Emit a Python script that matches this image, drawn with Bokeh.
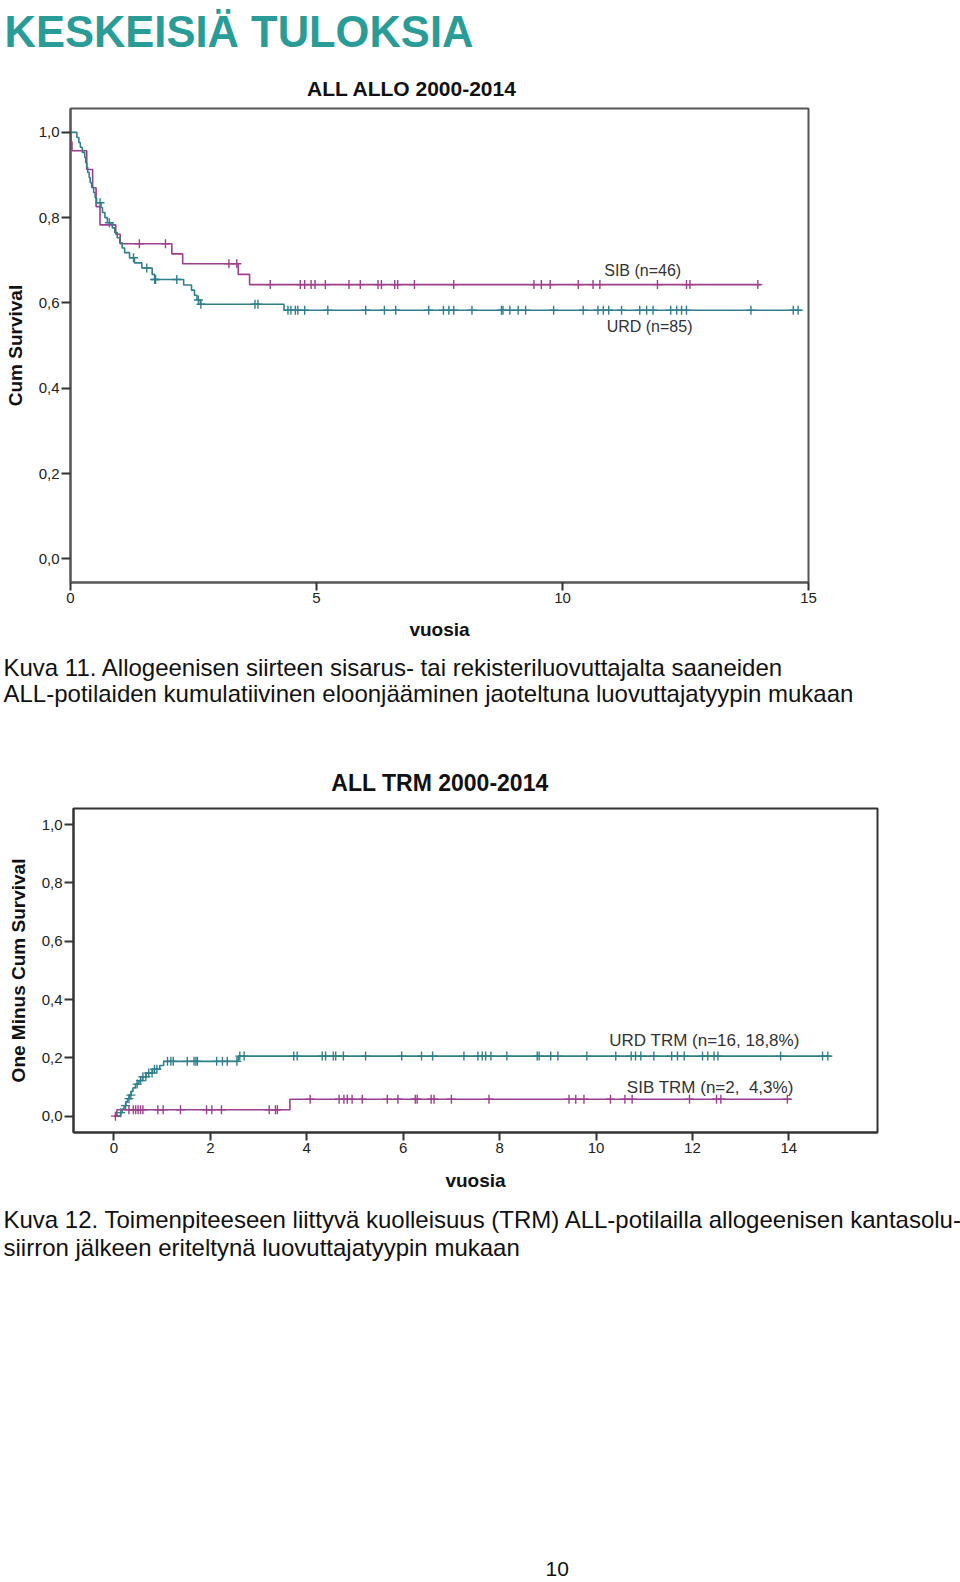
import numpy as np
from bokeh.plotting import figure
from bokeh.layouts import column
from bokeh.models import Range1d, FixedTicker
from bokeh.core.properties import value
from bokeh.embed import file_html
from bokeh.resources import INLINE

# ---------------- data: chart 1 (ALL ALLO 2000-2014, cumulative survival) ----------------
sib_time = [0.0, 0.01, 0.03, 0.33, 0.45, 0.52, 0.60, 0.92, 1.01, 2.06, 2.28, 3.41, 3.64, 14.03]
sib_surv = [1.0, 0.978, 0.957, 0.913, 0.870, 0.826, 0.783, 0.761, 0.739, 0.715, 0.692, 0.667, 0.643, 0.643]
sib_cens = [1.40, 1.93, 3.22, 3.38, 4.06, 4.67, 4.76, 4.89, 4.97, 5.18, 5.66, 5.89, 6.25, 6.32,
            6.59, 6.65, 6.99, 7.79, 9.42, 9.57, 9.75, 10.32, 10.62, 10.76, 11.93, 12.52, 12.59, 13.97]

urd_time = [0.0, 0.13, 0.17, 0.20, 0.24, 0.29, 0.31, 0.33, 0.35, 0.38, 0.40, 0.43, 0.47, 0.50,
            0.53, 0.62, 0.65, 0.70, 0.75, 0.85, 0.90, 0.95, 1.00, 1.05, 1.10, 1.20, 1.30, 1.45,
            1.66, 1.71, 2.30, 2.46, 2.52, 2.57, 2.64, 4.34, 14.86]
urd_surv = [1.0, 0.988, 0.976, 0.965, 0.953, 0.941, 0.929, 0.918, 0.906, 0.894, 0.882, 0.871,
            0.859, 0.847, 0.835, 0.824, 0.812, 0.800, 0.788, 0.776, 0.765, 0.753, 0.741, 0.729,
            0.718, 0.706, 0.694, 0.682, 0.667, 0.655, 0.642, 0.630, 0.618, 0.607, 0.597, 0.583, 0.583]
urd_cens = [0.60, 0.79, 1.28, 1.55, 1.71, 1.73, 2.16, 2.60, 2.65, 3.75, 3.81, 4.42, 4.48, 4.57,
            4.62, 4.76, 5.23, 6.00, 6.38, 6.61, 7.28, 7.58, 7.69, 7.79, 8.16, 8.76, 8.79, 8.93,
            9.10, 9.25, 9.82, 10.42, 10.72, 10.83, 10.94, 11.20, 11.57, 11.71, 11.84, 12.20,
            12.32, 12.42, 12.52, 13.83, 14.69, 14.79]

c1_xticks = [0, 5, 10, 15]
c1_yticks = [0.0, 0.2, 0.4, 0.6, 0.8, 1.0]
c1_ylabels = ["0,0", "0,2", "0,4", "0,6", "0,8", "1,0"]

# ---------------- data: chart 2 (ALL TRM 2000-2014, one minus cum survival) ----------------
urd_trm_time = [0.0, 0.136, 0.172, 0.209, 0.245, 0.28, 0.317, 0.357, 0.393, 0.446, 0.514,
                0.59, 0.666, 0.80, 0.95, 1.03, 2.58, 14.88]
urd_trm_val = [0.0, 0.012, 0.024, 0.036, 0.048, 0.060, 0.072, 0.085, 0.097, 0.110, 0.122,
               0.135, 0.148, 0.161, 0.174, 0.188, 0.206, 0.206]
urd_trm_cens = [0.14, 0.24, 0.31, 0.35, 0.48, 0.55, 0.60, 0.66, 0.72, 0.79, 0.84, 0.89, 1.11,
                1.18, 1.23, 1.52, 1.66, 1.70, 1.73, 2.13, 2.25, 2.35, 2.55, 2.61, 2.70, 3.73,
                3.80, 4.32, 4.39, 4.55, 4.60, 4.76, 5.22, 5.97, 6.38, 6.61, 7.26, 7.55, 7.64,
                7.71, 7.82, 8.15, 8.78, 8.82, 9.06, 9.21, 9.81, 10.41, 10.73, 10.82, 10.93,
                11.20, 11.57, 11.69, 11.83, 12.21, 12.32, 12.45, 12.53, 13.83, 14.70, 14.81]

sib_trm_time = [0.0, 0.06, 3.65, 14.04]
sib_trm_val = [0.0, 0.022, 0.058, 0.058]
sib_trm_cens = [0.03, 0.31, 0.40, 0.45, 0.50, 0.55, 0.60, 0.91, 1.02, 1.38, 1.92, 2.03, 2.23,
                3.22, 3.35, 3.39, 4.07, 4.67, 4.77, 4.84, 4.94, 5.15, 5.67, 5.89, 6.25, 6.29,
                6.58, 6.64, 7.00, 7.78, 9.44, 9.58, 9.75, 10.30, 10.60, 10.75, 11.94, 12.50,
                12.59, 13.97]

c2_xticks = [0, 2, 4, 6, 8, 10, 12, 14]
c2_yticks = [0.0, 0.2, 0.4, 0.6, 0.8, 1.0]
c2_ylabels = ["0,0", "0,2", "0,4", "0,6", "0,8", "1,0"]

# ---------------- texts ----------------
header_text = "KESKEISIÄ TULOKSIA"
chart1_title = "ALL ALLO 2000-2014"
chart2_title = "ALL TRM 2000-2014"
caption1 = ["Kuva 11. Allogeenisen siirteen sisarus- tai rekisteriluovuttajalta saaneiden",
            "ALL-potilaiden kumulatiivinen eloonjääminen jaoteltuna luovuttajatyypin mukaan"]
caption2 = ["Kuva 12. Toimenpiteeseen liittyvä kuolleisuus (TRM) ALL-potilailla allogeenisen kantasolu-",
            "siirron jälkeen eriteltynä luovuttajatyypin mukaan"]
page_number = "10"
c1_labels = ["SIB (n=46)", "URD (n=85)"]
c2_labels = ["URD TRM (n=16, 18,8%)", "SIB TRM (n=2,\u00a0 4,3%)"]

SIB_COLOR = "#9c3f8d"
URD_COLOR = "#2f808c"
HEAD_COLOR = "#2a9c97"
FONT = "Liberation Sans"


def step_at(times, vals, t):
    times = np.asarray(times)
    vals = np.asarray(vals)
    idx = np.searchsorted(times, np.asarray(t), side="right") - 1
    return vals[np.clip(idx, 0, len(vals) - 1)]


def text_fig(h):
    p = figure(width=960, height=h, x_range=Range1d(0, 960), y_range=Range1d(h, 0),
               output_backend="svg", toolbar_location=None,
               x_axis_location=None, y_axis_location=None,
               min_border=0, min_border_left=0, min_border_right=0,
               min_border_top=0, min_border_bottom=0, frame_align=False)
    p.grid.visible = False
    p.outline_line_color = None
    p.background_fill_color = "white"
    p.border_fill_color = "white"
    return p


def add_text(p, x, y, t, size, bold=False, color="#111111", align="left"):
    # y is the vertical centre of the text line (pixels from the top of the strip)
    p.text(x=[x], y=[y], text=[t], text_font=value(FONT), text_font_size=size,
           text_font_style="bold" if bold else "normal", text_color=color,
           text_align=align, text_baseline="middle")


def style_axes(p, xticks, yticks, ylabels, tick_size, line_color):
    p.grid.visible = False
    p.outline_line_color = line_color
    p.outline_line_width = 2
    p.xaxis.ticker = FixedTicker(ticks=xticks)
    p.yaxis.ticker = FixedTicker(ticks=yticks)
    p.yaxis.major_label_overrides = {float(k): v for k, v in zip(yticks, ylabels)}
    for ax in (p.xaxis[0], p.yaxis[0]):
        ax.axis_line_color = line_color
        ax.axis_line_width = 2
        ax.major_tick_line_color = "#333333"
        ax.major_tick_line_width = 2
        ax.major_tick_in = 0
        ax.major_tick_out = 9
        ax.minor_tick_line_color = None
        ax.major_label_text_font = FONT
        ax.major_label_text_font_size = tick_size
        ax.major_label_text_color = "#222222"
        ax.axis_label_text_font = FONT
        ax.axis_label_text_font_style = "bold"
        ax.axis_label_text_font_size = "19px"
        ax.axis_label_text_color = "#111111"
    p.xaxis.major_tick_out = 8
    p.xaxis.major_label_standoff = 2
    p.yaxis.major_label_standoff = 2
    p.xaxis.axis_label_standoff = 13
    p.yaxis.axis_label_standoff = 10


# ---------------- header figure ----------------
f0 = text_fig(100)
add_text(f0, 4, 31.5, header_text, "43.5px", bold=True, color=HEAD_COLOR)
add_text(f0, 411.5, 87.5, chart1_title, "21px", bold=True, align="center")

# ---------------- chart 1 ----------------
f1 = figure(width=960, height=545, x_range=Range1d(0, 15), y_range=Range1d(-0.0555, 1.056),
            output_backend="svg", toolbar_location=None, frame_align=False,
            min_border_left=70, min_border_right=152, min_border_top=8, min_border_bottom=63)
f1.xaxis.axis_label = "vuosia"
f1.yaxis.axis_label = "Cum Survival"
style_axes(f1, c1_xticks, c1_yticks, c1_ylabels, "15px", "#555555")

f1.step(x=sib_time, y=sib_surv, mode="after", line_color=SIB_COLOR, line_width=1.6)
f1.step(x=urd_time, y=urd_surv, mode="after", line_color=URD_COLOR, line_width=1.6)
f1.scatter(x=sib_cens, y=step_at(sib_time, sib_surv, sib_cens), marker="cross", size=9,
           line_color=SIB_COLOR, line_width=1.4)
f1.scatter(x=urd_cens, y=step_at(urd_time, urd_surv, urd_cens), marker="cross", size=9,
           line_color=URD_COLOR, line_width=1.4)
f1.text(x=[11.63], y=[0.677], text=[c1_labels[0]], text_font=value(FONT), text_font_size="16px",
        text_color="#333333", text_align="center", text_baseline="middle")
f1.text(x=[11.77], y=[0.544], text=[c1_labels[1]], text_font=value(FONT), text_font_size="16px",
        text_color="#333333", text_align="center", text_baseline="middle")

# ---------------- caption 1 + chart 2 title ----------------
f2 = text_fig(155)
add_text(f2, 3, 21.5, caption1[0], "24px")
add_text(f2, 3, 48.3, caption1[1], "24px")
add_text(f2, 439.5, 137.5, chart2_title, "23px", bold=True, align="center")

# ---------------- chart 2 ----------------
f3 = figure(width=960, height=400, x_range=Range1d(-0.84, 15.84), y_range=Range1d(-0.056, 1.055),
            output_backend="svg", toolbar_location=None, frame_align=False,
            min_border_left=73, min_border_right=83, min_border_top=8, min_border_bottom=68)
f3.xaxis.axis_label = "vuosia"
f3.yaxis.axis_label = "One Minus Cum Survival"
style_axes(f3, c2_xticks, c2_yticks, c2_ylabels, "15px", "#333333")
f3.xaxis.axis_label_standoff = 14

f3.step(x=urd_trm_time, y=urd_trm_val, mode="after", line_color=URD_COLOR, line_width=1.6)
f3.step(x=sib_trm_time, y=sib_trm_val, mode="after", line_color=SIB_COLOR, line_width=1.6)
f3.scatter(x=urd_trm_cens, y=step_at(urd_trm_time, urd_trm_val, urd_trm_cens), marker="cross",
           size=9, line_color=URD_COLOR, line_width=1.4)
f3.scatter(x=sib_trm_cens, y=step_at(sib_trm_time, sib_trm_val, sib_trm_cens), marker="cross",
           size=9, line_color=SIB_COLOR, line_width=1.4)
f3.text(x=[12.25], y=[0.258], text=[c2_labels[0]], text_font=value(FONT),
        text_font_size="17px", text_color="#333333", text_align="center", text_baseline="middle")
f3.text(x=[12.37], y=[0.099], text=[c2_labels[1]], text_font=value(FONT),
        text_font_size="17px", text_color="#333333", text_align="center", text_baseline="middle")

# ---------------- caption 2 + page number ----------------
f4 = text_fig(382)
add_text(f4, 3, 19.2, caption2[0], "24px")
add_text(f4, 3, 47.2, caption2[1], "24px")
add_text(f4, 556.7, 368, page_number, "21px", align="center")

layout = column(f0, f1, f2, f3, f4, spacing=0)
open("out.html", "w").write(file_html(layout, INLINE))
